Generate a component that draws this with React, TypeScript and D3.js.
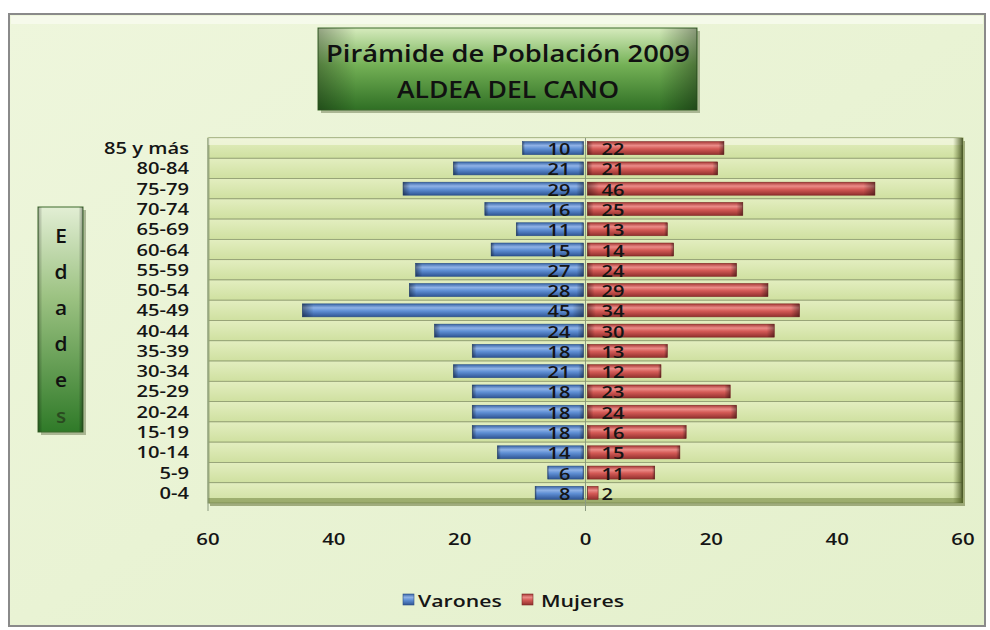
import React from 'react';
import * as d3 from 'd3';

const ageGroups = ['85 y más', '80-84', '75-79', '70-74', '65-69', '60-64', '55-59', '50-54', '45-49', '40-44', '35-39', '30-34', '25-29', '20-24', '15-19', '10-14', '5-9', '0-4'];
const varones = [10, 21, 29, 16, 11, 15, 27, 28, 45, 24, 18, 21, 18, 18, 18, 14, 6, 8];
const mujeres = [22, 21, 46, 25, 13, 14, 24, 29, 34, 30, 13, 12, 23, 24, 16, 15, 11, 2];
const xTicks = [-60, -40, -20, 0, 20, 40, 60];
const titleLines = ['Pirámide de Población 2009', 'ALDEA DEL CANO'];
const axisLetters = ['E', 'd', 'a', 'd', 'e', 's'];

const W = 990;
const H = 630;
const FONT = '"Open Sans", Lato, sans-serif';
const SX = 1.25; // the reference text is horizontally stretched

// text drawn with a horizontal stretch
function T({ x, y, anchor = 'start', size = 17, sx = SX, fill = '#151515', children }: any) {
  return (
    <g transform={`translate(${x},${y}) scale(${sx},1)`}>
      <text x={0} y={0} textAnchor={anchor} fontFamily={FONT} fontWeight={600} fontSize={size} fill={fill}>{children}</text>
    </g>
  );
}

export default function App() {
  const x = d3.scaleLinear().domain([-60, 60]).range([208, 963]);
  const rows = d3.scaleBand().domain(ageGroups).range([138, 503]);
  const y = d3.scaleBand().domain(ageGroups).range([138, 503]).paddingInner(0.36).paddingOuter(0.18);
  const x0 = x(0);
  const plotTop = 138, plotBottom = 503, plotLeft = x(-60), plotRight = x(60);

  return (
    <svg width={W} height={H} style={{ position: 'absolute', left: 0, top: 0 }}>
      <defs>
        <linearGradient id="blueBar" x1="0" y1="0" x2="0" y2="1">
          <stop offset="0" stopColor="#3a66a8" />
          <stop offset="0.3" stopColor="#8fb2e6" />
          <stop offset="0.55" stopColor="#5f8fd4" />
          <stop offset="1" stopColor="#2f5594" />
        </linearGradient>
        <linearGradient id="redBar" x1="0" y1="0" x2="0" y2="1">
          <stop offset="0" stopColor="#a83a38" />
          <stop offset="0.3" stopColor="#eb8c88" />
          <stop offset="0.55" stopColor="#d45a56" />
          <stop offset="1" stopColor="#92302e" />
        </linearGradient>
        <linearGradient id="titleGrad" x1="0" y1="0" x2="0" y2="1">
          <stop offset="0" stopColor="#d6ebbd" />
          <stop offset="0.45" stopColor="#74b156" />
          <stop offset="1" stopColor="#2f6f24" />
        </linearGradient>
        <linearGradient id="sideGrad" x1="0" y1="0" x2="0" y2="1">
          <stop offset="0" stopColor="#e2eed4" />
          <stop offset="0.4" stopColor="#9cc282" />
          <stop offset="1" stopColor="#2f7a28" />
        </linearGradient>
        <linearGradient id="edgeGrad" x1="0" y1="0" x2="1" y2="0">
          <stop offset="0" stopColor="#000" stopOpacity="0.3" />
          <stop offset="0.1" stopColor="#000" stopOpacity="0" />
          <stop offset="0.9" stopColor="#000" stopOpacity="0" />
          <stop offset="1" stopColor="#000" stopOpacity="0.35" />
        </linearGradient>
        <linearGradient id="barEdge" x1="0" y1="0" x2="1" y2="0">
          <stop offset="0" stopColor="#000" stopOpacity="0.4" />
          <stop offset="0.04" stopColor="#000" stopOpacity="0" />
          <stop offset="0.96" stopColor="#000" stopOpacity="0" />
          <stop offset="1" stopColor="#000" stopOpacity="0.4" />
        </linearGradient>
        <linearGradient id="rowGrad" x1="0" y1="0" x2="0" y2="1">
          <stop offset="0" stopColor="#e3eec0" />
          <stop offset="1" stopColor="#cfe0a0" />
        </linearGradient>
        <linearGradient id="plotEdge" x1="0" y1="0" x2="1" y2="0">
          <stop offset="0" stopColor="#5e6e2c" stopOpacity="0" />
          <stop offset="1" stopColor="#3c4a1a" stopOpacity="0.9" />
        </linearGradient>
        <linearGradient id="bgGrad" x1="0" y1="0" x2="1" y2="1">
          <stop offset="0" stopColor="#eef6dc" />
          <stop offset="1" stopColor="#e4f0cc" />
        </linearGradient>
      </defs>

      {/* outer panel */}
      <rect x={9} y={14} width={976} height={612} fill="url(#bgGrad)" stroke="#8a8a8a" strokeWidth={2} />
      <rect x={11} y={16} width={972} height={8} fill="#f8fbef" opacity={0.8} />

      {/* plot area with bevel */}
      <rect x={plotLeft + 2} y={plotTop + 3} width={plotRight - plotLeft} height={plotBottom - plotTop} fill="#6f7d45" opacity={0.6} />
      <rect x={plotLeft} y={plotTop} width={plotRight - plotLeft} height={plotBottom - plotTop} fill="#d3e4a6" stroke="#9aab6a" strokeWidth={1} />
      {ageGroups.map(g => (
        <rect key={'row' + g} x={plotLeft + 1} y={rows(g)!} width={plotRight - plotLeft - 2} height={rows.bandwidth()} fill="url(#rowGrad)" stroke="#8f9c70" strokeWidth={0.8} />
      ))}
      <rect x={plotLeft} y={plotTop} width={plotRight - plotLeft} height={7} fill="#f6f9e6" opacity={0.65} />
      <rect x={plotRight - 10} y={plotTop} width={10} height={plotBottom - plotTop} fill="url(#plotEdge)" />
      <rect x={plotLeft} y={plotBottom - 5} width={plotRight - plotLeft} height={5} fill="#5e6e2c" opacity={0.45} />
      <line x1={x0} x2={x0} y1={plotTop} y2={plotBottom + 8} stroke="#8a9a80" strokeWidth={1} />
      <line x1={plotLeft} x2={plotLeft} y1={plotTop} y2={plotBottom + 8} stroke="#8a9a80" strokeWidth={1} />

      {/* bars */}
      {ageGroups.map((g, i) => {
        const by = y(g)!;
        const bh = y.bandwidth();
        const cy = rows(g)! + rows.bandwidth() / 2;
        const bl = x(-varones[i]);
        const br = x(mujeres[i]);
        return (
          <g key={'bar' + g}>
            <rect x={bl} y={by} width={x0 - 2 - bl} height={bh} fill="url(#blueBar)" stroke="#2c4f86" strokeWidth={0.6} />
            <rect x={bl} y={by} width={x0 - 2 - bl} height={bh} fill="url(#barEdge)" />
            <rect x={x0 + 2} y={by} width={br - x0 - 2} height={bh} fill="url(#redBar)" stroke="#7e2826" strokeWidth={0.6} />
            <rect x={x0 + 2} y={by} width={br - x0 - 2} height={bh} fill="url(#barEdge)" />
            <T x={x0 - 15} y={cy + 7} anchor="end" size={16} sx={1.25}>{varones[i]}</T>
            <T x={x0 + 16} y={cy + 7} anchor="start" size={16} sx={1.25}>{mujeres[i]}</T>
          </g>
        );
      })}

      {/* category labels */}
      {ageGroups.map(g => (
        <T key={'lab' + g} x={189} y={rows(g)! + rows.bandwidth() / 2 + 6} anchor="end" size={15.5} sx={1.3}>{g}</T>
      ))}

      {/* x tick labels */}
      {xTicks.map(t => (
        <T key={'t' + t} x={x(t)} y={545} anchor="middle" size={17} sx={1.2}>{Math.abs(t)}</T>
      ))}

      {/* title box */}
      <rect x={321} y={31} width={379} height={82} fill="#4a5a30" opacity={0.4} />
      <rect x={318} y={28} width={379} height={82} fill="url(#titleGrad)" stroke="#3d6a2c" strokeWidth={1} />
      <rect x={318} y={28} width={379} height={82} fill="url(#edgeGrad)" />
      <text x={508} y={62} textAnchor="middle" fontFamily={FONT} fontWeight={600} fontSize={24} fill="#111" textLength={364} lengthAdjust="spacingAndGlyphs">{titleLines[0]}</text>
      <text x={508} y={98} textAnchor="middle" fontFamily={FONT} fontWeight={600} fontSize={24} fill="#111" textLength={222} lengthAdjust="spacingAndGlyphs">{titleLines[1]}</text>

      {/* Edades side box */}
      <rect x={41} y={210} width={45} height={225} fill="#4a5a30" opacity={0.4} />
      <rect x={38} y={207} width={45} height={225} fill="url(#sideGrad)" stroke="#3d6a2c" strokeWidth={1} />
      <rect x={38} y={207} width={45} height={225} fill="url(#edgeGrad)" />
      {axisLetters.map((l, i) => (
        <T key={'l' + i} x={61} y={243 + i * 36} anchor="middle" size={19} sx={1.1} fill={i === 5 ? '#2a4a20' : '#111'}>{l}</T>
      ))}

      {/* legend */}
      <rect x={403} y={594} width={11} height={11} fill="url(#blueBar)" stroke="#2c4f86" strokeWidth={0.6} />
      <T x={418} y={607} size={17}>Varones</T>
      <rect x={522} y={594} width={11} height={11} fill="url(#redBar)" stroke="#7e2826" strokeWidth={0.6} />
      <T x={541} y={607} size={17}>Mujeres</T>
    </svg>
  );
}
